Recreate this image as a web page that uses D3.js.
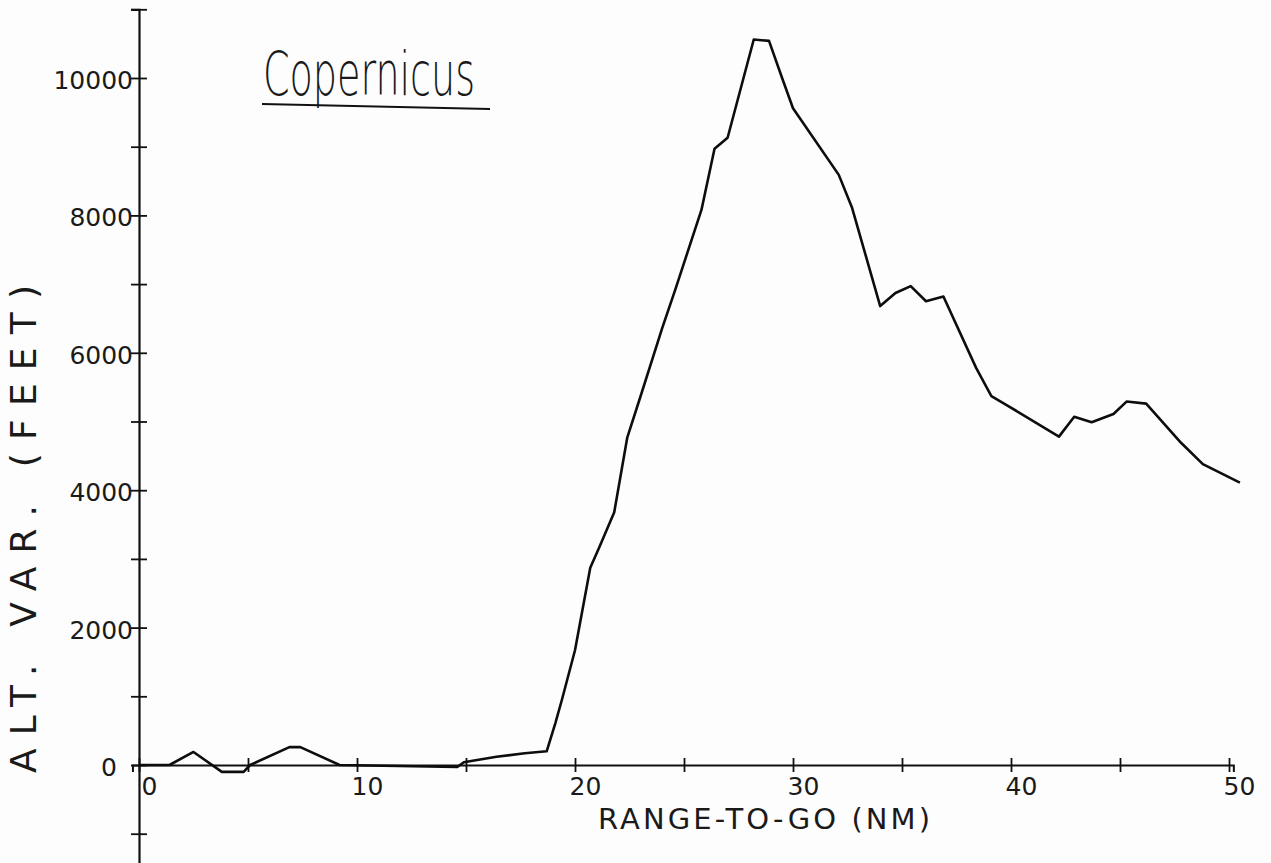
<!DOCTYPE html>
<html>
<head>
<meta charset="utf-8">
<script src="https://cdn.jsdelivr.net/npm/d3@7"></script>
<style>
  body { margin: 0; background: #fdfdfd; }
  svg { display: block; }
  text { fill: #1a1a1a; font-family: "DejaVu Sans", sans-serif; }
</style>
</head>
<body>
<div id="chart"></div>
<script>
// range-to-go (NM) and altitude variation (feet)
var rangeNm = [0, 1.4, 2.5, 3.8, 4.8, 5.1, 6.9, 7.4, 9.2, 14.6, 14.9, 16.4, 17.7, 18.7,
  19.1, 19.4, 20.0, 20.7, 21.1, 21.8, 22.4, 23.0, 24.0, 24.6, 25.8, 26.4, 27.0,
  28.2, 28.9, 29.5, 30.0, 32.1, 32.7, 34.0, 34.7, 35.4, 36.1, 36.9, 38.4, 39.1,
  39.8, 42.2, 42.9, 43.7, 44.7, 45.3, 46.2, 47.8, 48.8, 50.5];
var altVar = [0, 0, 190, -100, -100, 0, 260, 260, 0, -30, 40, 120, 170, 200,
  610, 950, 1670, 2870, 3160, 3680, 4770, 5360, 6360, 6920, 8080, 8970, 9130,
  10560, 10540, 10000, 9560, 8590, 8120, 6680, 6870, 6970, 6750, 6820, 5780, 5370,
  5240, 4780, 5070, 4990, 5110, 5290, 5260, 4690, 4380, 4110];

var xTicks = [0, 5, 10, 15, 20, 25, 30, 35, 40, 45, 50];
var xLabels = [0, 10, 20, 30, 40, 50];
var yTicks = [-1000, 0, 1000, 2000, 3000, 4000, 5000, 6000, 7000, 8000, 9000, 10000, 11000];
var yLabels = [0, 2000, 4000, 6000, 8000, 10000];

var width = 1271, height = 863;

var x = d3.scaleLinear().domain([0, 50]).range([139, 1229]);
var y = d3.scaleLinear().domain([0, 10000]).range([765, 78]);

var svg = d3.select("#chart").append("svg")
    .attr("width", width)
    .attr("height", height);

// y axis, runs off the bottom of the sheet
var yAxisScale = y.copy().domain([-1450, 11000]).range([y(-1450), y(11000)]);
var yAxis = svg.append("g")
    .attr("transform", "translate(" + x(0) + ",0)")
    .call(d3.axisLeft(yAxisScale)
      .tickValues(yTicks)
      .tickSizeOuter(0)
      .tickSize(8)
      .tickFormat(function(d) { return yLabels.indexOf(d) >= 0 ? d : ""; }));
yAxis.select(".domain").attr("stroke", "#111").attr("stroke-width", 2.2);
yAxis.selectAll(".tick line").attr("x1", -8).attr("x2", 8)
    .attr("stroke", "#111").attr("stroke-width", 1.8);
yAxis.selectAll(".tick text")
    .attr("x", function(d) { return d === 0 ? -22 : -6; })
    .attr("dy", "0.42em")
    .style("font-size", "25px")
    .style("fill", "#1a1a1a");

// x axis
var xAxisScale = x.copy().domain([-0.3, 50.2]).range([x(-0.3), x(50.2)]);
var xAxis = svg.append("g")
    .attr("transform", "translate(0," + y(0) + ")")
    .call(d3.axisBottom(xAxisScale)
      .tickValues(xTicks)
      .tickSizeOuter(0)
      .tickSize(7)
      .tickFormat(function(d) { return xLabels.indexOf(d) >= 0 ? d : ""; }));
xAxis.select(".domain").attr("stroke", "#111").attr("stroke-width", 2);
xAxis.selectAll(".tick line").attr("y1", -7).attr("y2", 7)
    .attr("stroke", "#111").attr("stroke-width", 1.8);
xAxis.selectAll(".tick text")
    .attr("x", 10)
    .attr("y", 12)
    .attr("dy", "0.71em")
    .style("font-size", "25px")
    .style("fill", "#1a1a1a");

// the trace
var line = d3.line()
    .x(function(d, i) { return x(rangeNm[i]); })
    .y(function(d) { return y(d); });

svg.append("path")
    .datum(altVar)
    .attr("d", line)
    .attr("fill", "none")
    .attr("stroke", "#0d0d0d")
    .attr("stroke-width", 2.6)
    .attr("stroke-linejoin", "round");

// axis titles
svg.append("text")
    .attr("transform", "translate(36," + 529 + ") rotate(-90)")
    .attr("text-anchor", "middle")
    .attr("textLength", 488)
    .attr("lengthAdjust", "spacing")
    .style("font-size", "36px")
    .text("ALT. VAR. (FEET)");

svg.append("text")
    .attr("x", 598)
    .attr("y", 829)
    .attr("textLength", 332)
    .attr("lengthAdjust", "spacing")
    .style("font-size", "29px")
    .text("RANGE-TO-GO (NM)");

// handwritten title with underline
svg.append("text")
    .attr("x", 263)
    .attr("y", 95)
    .attr("textLength", 212)
    .attr("lengthAdjust", "spacingAndGlyphs")
    .style("font-size", "60px")
    .style("font-weight", 200)
    .text("Copernicus");

svg.append("line")
    .attr("x1", 262).attr("y1", 104)
    .attr("x2", 490).attr("y2", 109)
    .attr("stroke", "#111")
    .attr("stroke-width", 2.2);
</script>
</body>
</html>
